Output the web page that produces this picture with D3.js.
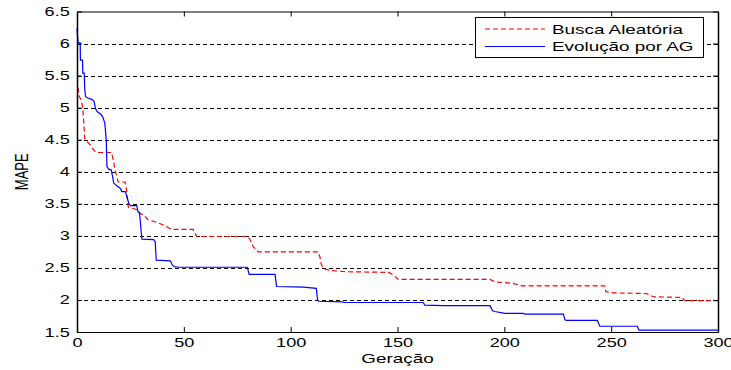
<!DOCTYPE html>
<html>
<head>
<meta charset="utf-8">
<script src="https://cdn.jsdelivr.net/npm/d3@7/dist/d3.min.js"></script>
<style>
    body { margin: 0; background: #fff; }
    svg text { font-family: "Liberation Sans", Arial, sans-serif; fill: #000; }
</style>
</head>
<body>
<script>
(function () {

    //series: generation and MAPE for each run
    var genBusca = [0, 0.5, 1.1, 2, 2.7, 3.1, 3.6, 4.7, 6.2, 7.8, 9, 16.2, 17, 17.8, 18.6, 19.3, 22.5, 23.2, 23.6, 24,
        28.7, 29.5, 31, 33.4, 36.5, 40.4, 44.3, 54.4, 56, 80, 81, 82.5, 84.9, 112.9, 113.7, 114.2, 115.3, 118.4,
        126.2, 146, 148, 150.4, 193.3, 195.6, 204, 208, 247, 247.5, 251, 266.6, 269.7, 283, 284.5, 300];
    var mapeBusca = [5.30, 5.30, 5.17, 5.12, 4.99, 4.81, 4.52, 4.47, 4.42, 4.34, 4.30, 4.30, 4.18, 4.03, 3.92, 3.84, 3.84, 3.72, 3.56, 3.45,
        3.40, 3.35, 3.33, 3.25, 3.22, 3.17, 3.10, 3.10, 2.99, 2.99, 2.94, 2.83, 2.75, 2.75, 2.67, 2.57, 2.49, 2.46,
        2.44, 2.43, 2.39, 2.32, 2.32, 2.28, 2.26, 2.22, 2.22, 2.13, 2.11, 2.10, 2.05, 2.04, 1.99, 1.99];

    var genAG = [0, 0.5, 1.5, 1.6, 2.6, 2.7, 3.4, 3.6, 4, 5, 7, 8, 8.6, 9.4, 11, 12, 13, 13.3, 13.7, 14, 14.8, 16,
        16.5, 17.2, 18.7, 20.3, 21, 22.6, 23.4, 24.2, 25, 28, 28.5, 29.3, 29.7, 30.1, 30.4, 35.9, 36.6, 37.1,
        43.7, 44.5, 45.5, 47.6, 79.7, 80.6, 92.7, 93.4, 106, 112, 112.6, 113.1, 124.3, 125, 162, 162.8, 171.4,
        193.3, 194.5, 195.5, 200.3, 208.8, 209.6, 227.6, 228.4, 229, 243.5, 244.7, 262.2, 263, 300];
    var mapeAG = [6.24, 6.01, 6.01, 5.74, 5.74, 5.54, 5.54, 5.30, 5.17, 5.15, 5.13, 5.10, 4.99, 4.94, 4.90, 4.86, 4.76, 4.65, 4.49, 4.08, 4.04, 4.03,
        3.95, 3.82, 3.78, 3.74, 3.69, 3.69, 3.61, 3.51, 3.47, 3.47, 3.38, 3.35, 3.20, 3.04, 2.95, 2.94, 2.91, 2.62,
        2.61, 2.55, 2.52, 2.51, 2.51, 2.40, 2.40, 2.21, 2.20, 2.18, 2.00, 1.98, 1.97, 1.96, 1.96, 1.92, 1.91,
        1.91, 1.83, 1.82, 1.79, 1.79, 1.78, 1.78, 1.69, 1.68, 1.68, 1.59, 1.59, 1.53, 1.53];

    var xTicks = [0, 50, 100, 150, 200, 250, 300];
    var yTicks = [1.5, 2, 2.5, 3, 3.5, 4, 4.5, 5, 5.5, 6, 6.5];
    var seriesNames = ["Busca Aleatória", "Evolução por AG"];
    var xTitle = "Geração";
    var yTitle = "MAPE";

    //frame dimensions
    var width = 731,
        height = 370;
    var margin = { top: 11.5, right: 13, bottom: 38, left: 77 };
    var stretch = 1.45; //the text in the picture is stretched sideways

    var svg = d3.select("body")
        .append("svg")
        .attr("width", width)
        .attr("height", height);

    var x = d3.scaleLinear()
        .domain([0, 300])
        .range([margin.left, width - margin.right]);

    var y = d3.scaleLinear()
        .domain([1.5, 6.5])
        .range([height - margin.bottom, margin.top]);

    //horizontal dashed grid
    svg.append("g")
        .selectAll("line")
        .data(yTicks.slice(1, -1))
        .enter()
        .append("line")
        .attr("x1", x(0))
        .attr("x2", x(300))
        .attr("y1", function (d) { return Math.round(y(d)) + 0.5; })
        .attr("y2", function (d) { return Math.round(y(d)) + 0.5; })
        .attr("stroke", "#000")
        .attr("stroke-width", 1)
        .attr("stroke-dasharray", "4,3");

    var line = d3.line()
        .x(function (d) { return x(d[0]); })
        .y(function (d) { return y(d[1]); });

    var busca = d3.zip(genBusca, mapeBusca);
    var ag = d3.zip(genAG, mapeAG);

    svg.append("path")
        .datum(busca)
        .attr("d", line)
        .attr("fill", "none")
        .attr("stroke", "#ff0000")
        .attr("stroke-width", 1.2)
        .attr("stroke-dasharray", "5,3");

    svg.append("path")
        .datum(ag)
        .attr("d", line)
        .attr("fill", "none")
        .attr("stroke", "#0000ff")
        .attr("stroke-width", 1.2);

    //axes with inward ticks on all four sides
    var tickLen = 5;
    var fontSize = "12.5px";

    var xAxis = svg.append("g")
        .attr("transform", "translate(0," + y(1.5) + ")")
        .call(d3.axisBottom(x).tickValues(xTicks).tickSize(-tickLen).tickSizeOuter(0).tickPadding(6));

    var xTop = svg.append("g")
        .attr("transform", "translate(0," + y(6.5) + ")")
        .call(d3.axisTop(x).tickValues(xTicks).tickSize(-tickLen).tickSizeOuter(0).tickFormat(""));

    var yAxis = svg.append("g")
        .attr("transform", "translate(" + x(0) + ",0)")
        .call(d3.axisLeft(y).tickValues(yTicks).tickSize(-tickLen).tickSizeOuter(0).tickPadding(5)
            .tickFormat(function (d) { return String(d); }));

    var yRight = svg.append("g")
        .attr("transform", "translate(" + x(300) + ",0)")
        .call(d3.axisRight(y).tickValues(yTicks).tickSize(-tickLen).tickSizeOuter(0).tickFormat(""));

    [xAxis, xTop, yAxis, yRight].forEach(function (g) {
        g.selectAll("path, line").attr("stroke", "#000");
        g.selectAll("text")
            .style("font-size", fontSize)
            .attr("fill", "#000")
            .attr("transform", "scale(" + stretch + ",1)");
    });
    yAxis.select(".domain").attr("stroke-width", 1.5);
    yRight.select(".domain").attr("stroke-width", 1.5);

    //axis titles
    svg.append("text")
        .attr("transform", "translate(" + ((x(0) + x(300)) / 2) + ",363) scale(" + stretch + ",1)")
        .attr("text-anchor", "middle")
        .style("font-size", "13px")
        .text(xTitle);

    svg.append("text")
        .attr("transform", "translate(28," + ((y(1.5) + y(6.5)) / 2) + ") scale(" + stretch + ",1) rotate(-90)")
        .attr("text-anchor", "middle")
        .style("font-size", "13px")
        .text(yTitle);

    //legend
    var legend = svg.append("g");
    legend.append("rect")
        .attr("x", 475.5)
        .attr("y", 17.5)
        .attr("width", 228)
        .attr("height", 40)
        .attr("fill", "#fff")
        .attr("stroke", "#000")
        .attr("stroke-width", 1);

    var legendStyles = [
        { color: "#ff0000", dash: "5,3" },
        { color: "#0000ff", dash: null }
    ];

    seriesNames.forEach(function (name, i) {
        var ly = 29 + i * 17.5;
        legend.append("line")
            .attr("x1", 485)
            .attr("x2", 545)
            .attr("y1", ly)
            .attr("y2", ly)
            .attr("stroke", legendStyles[i].color)
            .attr("stroke-width", 1.2)
            .attr("stroke-dasharray", legendStyles[i].dash);
        legend.append("text")
            .attr("transform", "translate(552," + (ly + 4.5) + ") scale(" + stretch + ",1)")
            .style("font-size", "13px")
            .text(name);
    });

})();
</script>
</body>
</html>
